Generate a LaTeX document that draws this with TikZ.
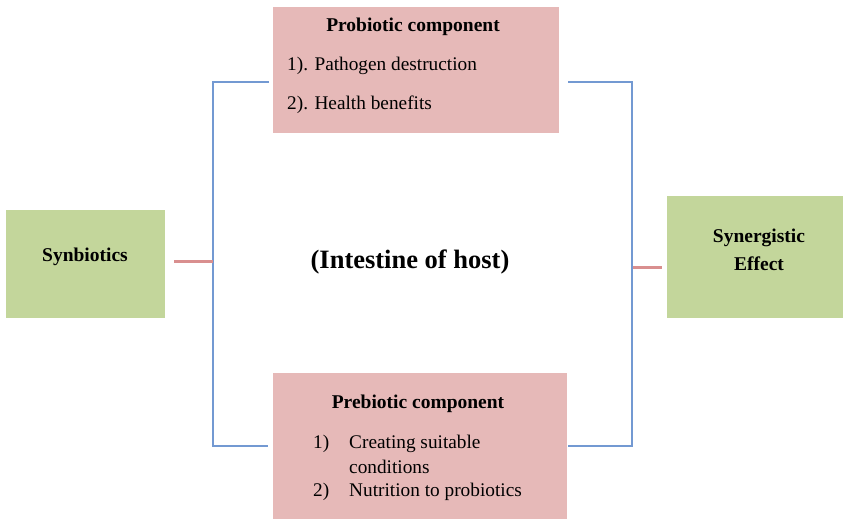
\documentclass[tikz,border=0pt]{standalone}
\usepackage{fontspec}
\setmainfont{Liberation Serif}
\begin{document}
\begin{tikzpicture}[x=1pt,y=-1pt,
  pinkbox/.style={fill=boxpink,draw=none,inner sep=0pt,outer sep=0pt,anchor=north west},
  greenbox/.style={fill=boxgreen,draw=none,inner sep=0pt,outer sep=0pt,anchor=north west},
  bodytext/.style={font=\fontsize{19.3}{23}\selectfont,inner sep=0pt},
  headtext/.style={font=\fontsize{19.5}{23}\selectfont\bfseries,inner sep=0pt},
  bigtext/.style={font=\fontsize{26.5}{30}\selectfont\bfseries,inner sep=0pt},
  blueline/.style={draw=lineblue,line width=1.5pt},
  redline/.style={draw=linered,line width=3pt}]
\definecolor{boxpink}{HTML}{E6B9B8}
\definecolor{boxgreen}{HTML}{C3D69B}
\definecolor{lineblue}{HTML}{7399D2}
\definecolor{linered}{HTML}{D98F8F}
\useasboundingbox (0,0) rectangle (843,519);

% boxes
\node[pinkbox,minimum width=286pt,minimum height=126pt] (pro) at (273,7) {};
\node[pinkbox,minimum width=294pt,minimum height=146pt] (pre) at (273,373) {};
\node[greenbox,minimum width=159pt,minimum height=108pt] (syn) at (6,210) {};
\node[greenbox,minimum width=176pt,minimum height=122pt] (eff) at (667,196) {};

% box texts
\node[headtext] (proT) at (413,27) {Probiotic component};
\node[bodytext,anchor=west] (pro1) at (287,66) {1). Pathogen destruction};
\node[bodytext,anchor=west] (pro2) at (287,105) {2). Health benefits};

\node[headtext] (preT) at (418,404) {Prebiotic component};
\node[bodytext,anchor=west] (pre1n) at (313,444) {1)};
\node[bodytext,anchor=west] (pre1a) at (349,444) {Creating suitable};
\node[bodytext,anchor=west] (pre1b) at (349,467) {conditions};
\node[bodytext,anchor=west] (pre2n) at (313,492) {2)};
\node[bodytext,anchor=west] (pre2a) at (349,492) {Nutrition to probiotics};

\node[headtext] (synT) at (85,257) {Synbiotics};
\node[headtext,align=center,font=\fontsize{19.5}{28}\selectfont\bfseries] (effT) at (759,250) {Synergistic\\Effect};

\node[bigtext] (host) at (410,262) {(Intestine of host)};

% junction points of the bracket connectors
\coordinate (lt) at (213,82);
\coordinate (lb) at (213,446);
\coordinate (lm) at (213,261);
\coordinate (rt) at (632,82);
\coordinate (rb) at (632,446);
\coordinate (rm) at (633,267);

\draw[blueline] ([xshift=-4pt]pro.west |- lt) -- (lt) -- (lb) -- ([xshift=-5pt]pre.west |- lb);
\draw[blueline] ([xshift=9pt]pro.east |- rt) -- (rt) -- (rb) -- ([xshift=1pt]pre.east |- rb);
\draw[redline] ([xshift=9pt]syn.east |- lm) -- (lm);
\draw[redline] (rm) -- ([xshift=-5pt]eff.west |- rm);
\end{tikzpicture}
\end{document}
